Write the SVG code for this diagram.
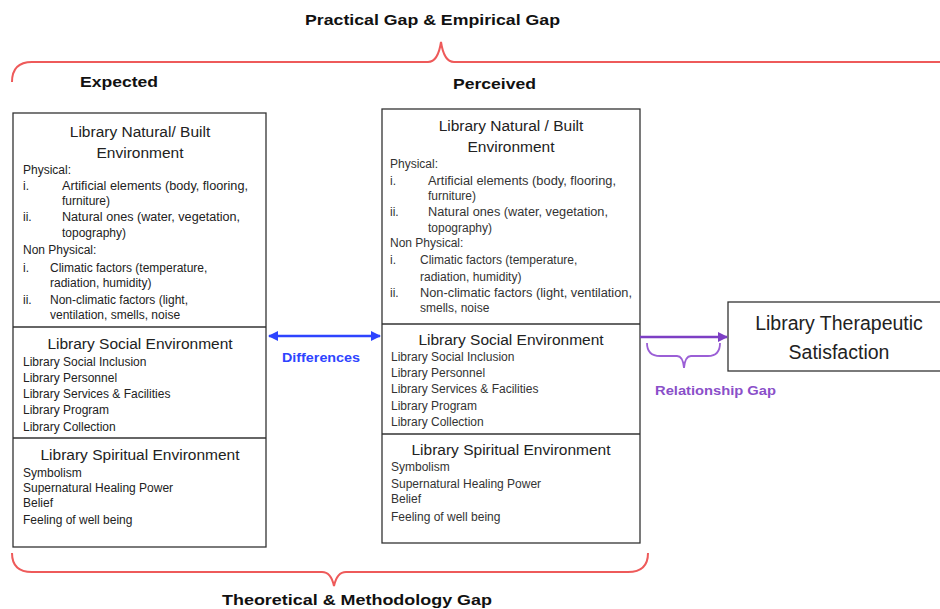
<svg xmlns="http://www.w3.org/2000/svg" width="940" height="609" viewBox="0 0 940 609">
<defs>
<style>
.hd{font-family:"Liberation Sans",Arial,sans-serif;font-weight:bold;font-size:14px;fill:#111;}
.ttl{font-family:"Liberation Sans",Arial,sans-serif;font-size:15.5px;fill:#222;text-anchor:middle;}
.it{font-family:"Liberation Sans",Arial,sans-serif;font-size:12px;fill:#222;}
.it2{font-family:"Liberation Sans",Arial,sans-serif;font-size:12px;fill:#333;}
.box{fill:#fff;stroke:#333;stroke-width:1.3;}
.div{stroke:#333;stroke-width:1.3;}
.brace{fill:none;stroke:#ee5a5a;stroke-width:2;}
</style>
<marker id="blueHead" viewBox="0 0 10 10" refX="9" refY="5" markerWidth="4" markerHeight="4" orient="auto-start-reverse"><path d="M0,0 L10,5 L0,10 z" fill="#2e44ff"/></marker>
<marker id="purpleHead" viewBox="0 0 10 10" refX="9" refY="5" markerWidth="4" markerHeight="4" orient="auto"><path d="M0,0 L10,5 L0,10 z" fill="#7d3fc4"/></marker>
</defs>
<rect width="940" height="609" fill="#fff"/>

<g id="gap-labels">
<text class="hd" x="305" y="25" textLength="255" lengthAdjust="spacingAndGlyphs">Practical Gap &amp; Empirical Gap</text>
<text class="hd" x="80" y="87" textLength="78" lengthAdjust="spacingAndGlyphs">Expected</text>
<text class="hd" x="453" y="89" textLength="83" lengthAdjust="spacingAndGlyphs">Perceived</text>
<text class="hd" x="222" y="605" textLength="270" lengthAdjust="spacingAndGlyphs">Theoretical &amp; Methodology Gap</text>
</g>

<g id="braces">
<path class="brace" d="M12,82 Q12,62 32,62 L428,62 Q438,62 441,42 Q444,62 454,62 L942,62"/>
<path class="brace" d="M12,553 Q12,572 32,572 L322,572 Q331,572 334,586 Q337,572 346,572 L628,572 Q648,572 648,553"/>
</g>

<g id="expected">
<rect class="box" x="13" y="113" width="253" height="434"/>
<line class="div" x1="13" y1="327" x2="266" y2="327"/>
<line class="div" x1="13" y1="438" x2="266" y2="438"/>
<text class="ttl" x="140" y="137">Library Natural/ Built</text>
<text class="ttl" x="140" y="158">Environment</text>
<text class="it" x="23" y="174">Physical:</text>
<text class="it" x="23" y="190">i.</text><text class="it" x="62" y="190" textLength="186" lengthAdjust="spacingAndGlyphs">Artificial elements (body, flooring,</text>
<text class="it" x="62" y="205">furniture)</text>
<text class="it" x="23" y="221">ii.</text><text class="it" x="62" y="221" textLength="178" lengthAdjust="spacingAndGlyphs">Natural ones (water, vegetation,</text>
<text class="it" x="62" y="237">topography)</text>
<text class="it" x="23" y="254">Non Physical:</text>
<text class="it" x="23" y="272">i.</text><text class="it" x="50" y="272">Climatic factors (temperature,</text>
<text class="it" x="50" y="287">radiation, humidity)</text>
<text class="it" x="23" y="304">ii.</text><text class="it" x="50" y="304">Non-climatic factors (light,</text>
<text class="it" x="50" y="319">ventilation, smells, noise</text>
<text class="ttl" x="140" y="349">Library Social Environment</text>
<text class="it" x="23" y="366">Library Social Inclusion</text>
<text class="it" x="23" y="382">Library Personnel</text>
<text class="it" x="23" y="398">Library Services &amp; Facilities</text>
<text class="it" x="23" y="414">Library Program</text>
<text class="it" x="23" y="431">Library Collection</text>
<text class="ttl" x="140" y="460">Library Spiritual Environment</text>
<text class="it" x="23" y="477">Symbolism</text>
<text class="it" x="23" y="492">Supernatural Healing Power</text>
<text class="it" x="23" y="507">Belief</text>
<text class="it" x="23" y="524">Feeling of well being</text>
</g>

<g id="perceived">
<rect class="box" x="382" y="109" width="258" height="434"/>
<line class="div" x1="382" y1="324" x2="640" y2="324"/>
<line class="div" x1="382" y1="434" x2="640" y2="434"/>
<text class="ttl" x="511" y="131">Library Natural / Built</text>
<text class="ttl" x="511" y="152">Environment</text>
<text class="it2" x="390" y="168">Physical:</text>
<text class="it2" x="390" y="185">i.</text><text class="it2" x="428" y="185" textLength="188" lengthAdjust="spacingAndGlyphs">Artificial elements (body, flooring,</text>
<text class="it2" x="428" y="200">furniture)</text>
<text class="it2" x="390" y="216">ii.</text><text class="it2" x="428" y="216" textLength="180" lengthAdjust="spacingAndGlyphs">Natural ones (water, vegetation,</text>
<text class="it2" x="428" y="232">topography)</text>
<text class="it2" x="390" y="247">Non Physical:</text>
<text class="it2" x="390" y="264">i.</text><text class="it2" x="420" y="264">Climatic factors (temperature,</text>
<text class="it2" x="420" y="281">radiation, humidity)</text>
<text class="it2" x="390" y="297">ii.</text><text class="it2" x="420" y="297" textLength="212" lengthAdjust="spacingAndGlyphs">Non-climatic factors (light, ventilation,</text>
<text class="it2" x="420" y="312">smells, noise</text>
<text class="ttl" x="511" y="345">Library Social Environment</text>
<text class="it2" x="391" y="361">Library Social Inclusion</text>
<text class="it2" x="391" y="377">Library Personnel</text>
<text class="it2" x="391" y="393">Library Services &amp; Facilities</text>
<text class="it2" x="391" y="410">Library Program</text>
<text class="it2" x="391" y="426">Library Collection</text>
<text class="ttl" x="511" y="455">Library Spiritual Environment</text>
<text class="it2" x="391" y="471">Symbolism</text>
<text class="it2" x="391" y="488">Supernatural Healing Power</text>
<text class="it2" x="391" y="503">Belief</text>
<text class="it2" x="391" y="521">Feeling of well being</text>
</g>

<g id="satisfaction">
<rect class="box" x="728" y="302" width="220" height="69"/>
<text x="839" y="330" style="font-family:'Liberation Sans',Arial,sans-serif;font-size:19.5px;fill:#222;text-anchor:middle">Library Therapeutic</text>
<text x="839" y="359" style="font-family:'Liberation Sans',Arial,sans-serif;font-size:19.5px;fill:#222;text-anchor:middle">Satisfaction</text>
</g>

<g id="connectors">
<line x1="269" y1="336" x2="380" y2="336" stroke="#2e44ff" stroke-width="2.5" marker-start="url(#blueHead)" marker-end="url(#blueHead)"/>
<text x="282" y="362" textLength="78" lengthAdjust="spacingAndGlyphs" style="font-family:'Liberation Sans',Arial,sans-serif;font-weight:bold;font-size:12px;fill:#2e44ff">Differences</text>
<line x1="640" y1="337" x2="727" y2="337" stroke="#7d3fc4" stroke-width="2.5" marker-end="url(#purpleHead)"/>
<path d="M647,343 Q647,356 660,356 L677,356 Q683,356 684,368 Q685,356 691,356 L708,356 Q720,356 720,343" fill="none" stroke="#9b5fd6" stroke-width="1.8"/>
<text x="655" y="395" textLength="121" lengthAdjust="spacingAndGlyphs" style="font-family:'Liberation Sans',Arial,sans-serif;font-weight:bold;font-size:12px;fill:#8a4fc9">Relationship Gap</text>
</g>
</svg>
